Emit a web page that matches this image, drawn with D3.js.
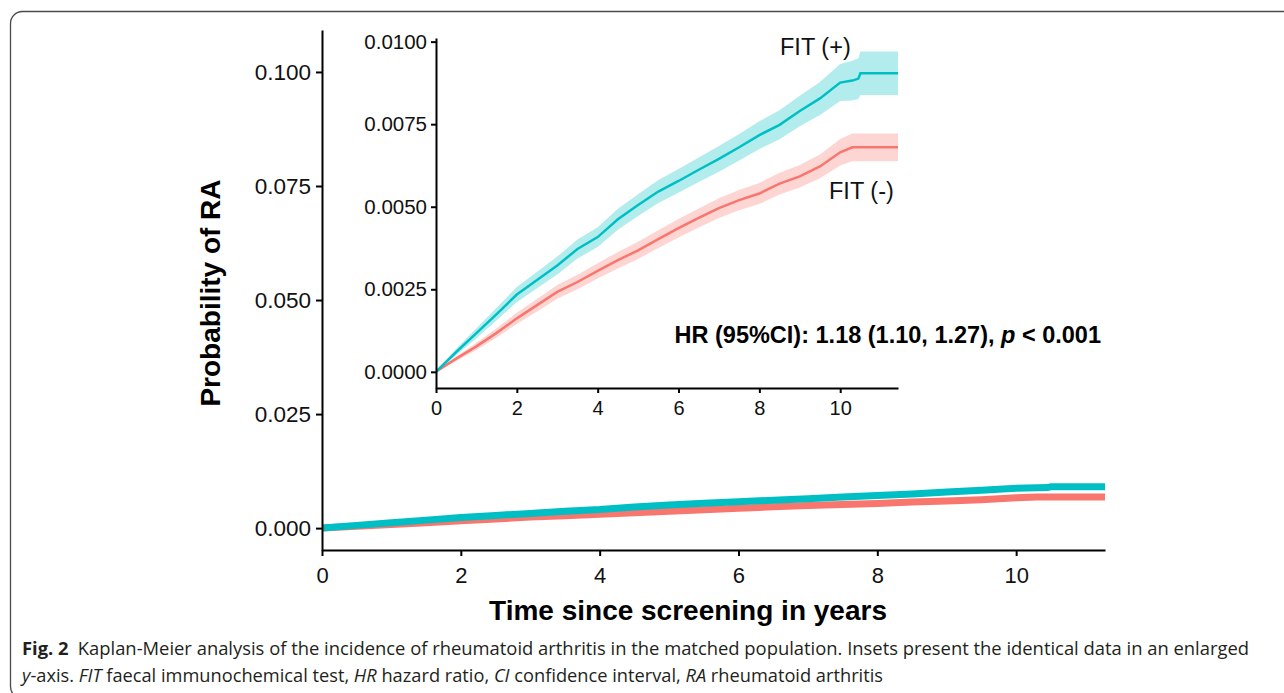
<!DOCTYPE html>
<html>
<head>
<meta charset="utf-8">
<script src="https://cdn.jsdelivr.net/npm/d3@7"></script>
<style>
  body { margin: 0; background: #fff; }
  svg { display: block; }
  .tick text { fill: #111; }
</style>
</head>
<body>
<svg id="chart" width="1284" height="693"></svg>
<script>
// Kaplan-Meier cumulative incidence
const timesPos = [0, 0.5, 1, 1.5, 2, 2.5, 3, 3.5, 4, 4.5, 5, 5.5, 6, 6.5, 7, 7.5, 8, 8.5, 9, 9.5, 10, 10.3, 10.45, 10.5, 11.43];
const fitPos = [0, 0.0006, 0.00117, 0.00175, 0.00234, 0.00278, 0.00322, 0.00372, 0.00408, 0.00462, 0.00505, 0.00546, 0.00578, 0.00612, 0.00645, 0.0068, 0.00717, 0.00748, 0.0079, 0.00828, 0.00876, 0.00882, 0.00888, 0.00904, 0.00904];
const fitPosCI = [0, 0.0001, 0.00015, 0.00019, 0.00023, 0.00025, 0.00027, 0.00029, 0.0003, 0.00032, 0.00033, 0.00035, 0.00036, 0.00037, 0.00039, 0.0004, 0.00042, 0.00044, 0.00046, 0.0005, 0.00056, 0.0006, 0.00062, 0.00066, 0.00066];

const timesNeg = [0, 0.5, 1, 1.5, 2, 2.5, 3, 3.5, 4, 4.5, 5, 5.5, 6, 6.5, 7, 7.5, 8, 8.5, 9, 9.5, 10, 10.3, 11.43];
const fitNeg = [0, 0.0004, 0.00077, 0.00118, 0.00162, 0.00202, 0.00242, 0.00272, 0.00306, 0.00338, 0.00368, 0.00402, 0.00435, 0.00466, 0.00496, 0.0052, 0.0054, 0.0057, 0.00592, 0.00622, 0.00665, 0.0068, 0.0068];
const fitNegCI = [0, 0.00007, 0.00011, 0.00014, 0.00017, 0.00019, 0.00021, 0.00022, 0.00023, 0.00025, 0.00026, 0.00027, 0.00028, 0.00029, 0.0003, 0.00031, 0.00032, 0.00033, 0.00034, 0.00036, 0.0004, 0.00042, 0.00042];

const xTicks = [0, 2, 4, 6, 8, 10];
const mainYTicks = [0, 0.025, 0.05, 0.075, 0.1];
const insetYTicks = [0, 0.0025, 0.005, 0.0075, 0.01];

const teal = "#00BFC4";
const red = "#F8766D";
const font = "'Liberation Sans', Arial, Helvetica, sans-serif";

const svg = d3.select("#chart");

// figure frame
svg.append("rect")
  .attr("x", 10.5).attr("y", 11.5)
  .attr("width", 1400).attr("height", 687)
  .attr("rx", 12)
  .attr("fill", "none")
  .attr("stroke", "#4a4a4a")
  .attr("stroke-width", 1.3);

function series(times, vals, ci) {
  return times.map((t, i) => ({ t: t, v: vals[i], lo: vals[i] - ci[i], hi: vals[i] + ci[i] }));
}
const pos = series(timesPos, fitPos, fitPosCI);
const neg = series(timesNeg, fitNeg, fitNegCI);

function styleAxis(g, size) {
  g.select(".domain").attr("stroke", "#000").attr("stroke-width", 2);
  g.selectAll(".tick line").attr("stroke", "#000").attr("stroke-width", 2);
  g.selectAll(".tick text").style("font-family", font).style("font-size", size + "px");
}

// ---- main panel
const mx = d3.scaleLinear().domain([0, 11.28]).range([322, 1105]);
const my = d3.scaleLinear().domain([-0.0048, 0.1092]).range([550, 30]);

svg.append("defs").append("clipPath").attr("id", "mainClip")
  .append("rect").attr("x", 322).attr("y", 30).attr("width", 783).attr("height", 520);
svg.append("defs").append("clipPath").attr("id", "insetClip")
  .append("rect").attr("x", 436).attr("y", 38).attr("width", 462).attr("height", 350);

const mainLine = d3.line().x(d => mx(d.t)).y(d => my(d.v));
const mainG = svg.append("g").attr("clip-path", "url(#mainClip)");
[[neg, red], [pos, teal]].forEach(([d, c]) => {
  mainG.append("path").datum(d)
    .attr("d", mainLine)
    .attr("fill", "none")
    .attr("stroke", c)
    .attr("stroke-width", 7);
});

svg.append("g")
  .attr("transform", "translate(0,550)")
  .call(d3.axisBottom(mx).tickValues(xTicks).tickSize(6).tickSizeOuter(0).tickPadding(11))
  .call(g => styleAxis(g, 22));

svg.append("g")
  .attr("transform", "translate(322,0)")
  .call(d3.axisLeft(my).tickValues(mainYTicks).tickFormat(d3.format(".3f")).tickSize(6).tickSizeOuter(0).tickPadding(5))
  .call(g => styleAxis(g, 22.5));

svg.append("text")
  .attr("x", 688).attr("y", 620)
  .attr("text-anchor", "middle")
  .style("font-family", font).style("font-weight", "bold").style("font-size", "28px")
  .text("Time since screening in years");

svg.append("text")
  .attr("transform", "translate(220,293) rotate(-90)")
  .attr("text-anchor", "middle")
  .style("font-family", font).style("font-weight", "bold").style("font-size", "28px")
  .text("Probability of RA");

// ---- inset panel
const ix = d3.scaleLinear().domain([0, 11.43]).range([436, 898]);
const iy = d3.scaleLinear().domain([-0.00049, 0.01011]).range([388, 38]);

const insetG = svg.append("g").attr("clip-path", "url(#insetClip)");
const band = d3.area().x(d => ix(d.t)).y0(d => iy(d.lo)).y1(d => iy(d.hi));
const insetLine = d3.line().x(d => ix(d.t)).y(d => iy(d.v));
[[neg, red], [pos, teal]].forEach(([d, c]) => {
  insetG.append("path").datum(d)
    .attr("d", band)
    .attr("fill", c)
    .attr("fill-opacity", 0.3);
});
[[neg, red], [pos, teal]].forEach(([d, c]) => {
  insetG.append("path").datum(d)
    .attr("d", insetLine)
    .attr("fill", "none")
    .attr("stroke", c)
    .attr("stroke-width", 2.5);
});

svg.append("g")
  .attr("transform", "translate(0,388)")
  .call(d3.axisBottom(ix).tickValues(xTicks).tickSize(5).tickSizeOuter(0).tickPadding(8))
  .call(g => styleAxis(g, 20));

svg.append("g")
  .attr("transform", "translate(436,0)")
  .call(d3.axisLeft(iy).tickValues(insetYTicks).tickFormat(d3.format(".4f")).tickSize(5).tickSizeOuter(0).tickPadding(4))
  .call(g => styleAxis(g, 20.5));

svg.append("text")
  .attr("x", 780).attr("y", 55)
  .style("font-family", font).style("font-size", "23.5px").attr("fill", "#111")
  .text("FIT (+)");
svg.append("text")
  .attr("x", 829).attr("y", 199)
  .style("font-family", font).style("font-size", "23.5px").attr("fill", "#111")
  .text("FIT (-)");

const hr = svg.append("text")
  .attr("x", 1101).attr("y", 343)
  .attr("text-anchor", "end")
  .style("font-family", font).style("font-weight", "bold").style("font-size", "23.5px");
hr.append("tspan").text("HR (95%CI): 1.18 (1.10, 1.27), ");
hr.append("tspan").style("font-style", "italic").text("p");
hr.append("tspan").text(" < 0.001");

// ---- caption
const capFont = "'Liberation Sans Narrow', 'Open Sans', 'Noto Sans', sans-serif";
const cap1 = svg.append("text")
  .attr("x", 22).attr("y", 655)
  .attr("textLength", 1227).attr("lengthAdjust", "spacingAndGlyphs")
  .style("font-family", capFont).style("font-size", "18px").attr("fill", "#231f20");
cap1.append("tspan").style("font-weight", "bold").text("Fig. 2");
cap1.append("tspan").text("\u2002Kaplan-Meier analysis of the incidence of rheumatoid arthritis in the matched population. Insets present the identical data in an enlarged");

const cap2 = svg.append("text")
  .attr("x", 22).attr("y", 682)
  .attr("textLength", 861).attr("lengthAdjust", "spacingAndGlyphs")
  .style("font-family", capFont).style("font-size", "18px").attr("fill", "#231f20");
[["y", true], ["-axis. ", false], ["FIT", true], [" faecal immunochemical test, ", false],
 ["HR", true], [" hazard ratio, ", false], ["CI", true], [" confidence interval, ", false],
 ["RA", true], [" rheumatoid arthritis", false]].forEach(([s, it]) => {
  cap2.append("tspan").style("font-style", it ? "italic" : "normal").text(s);
});
</script>
</body>
</html>
